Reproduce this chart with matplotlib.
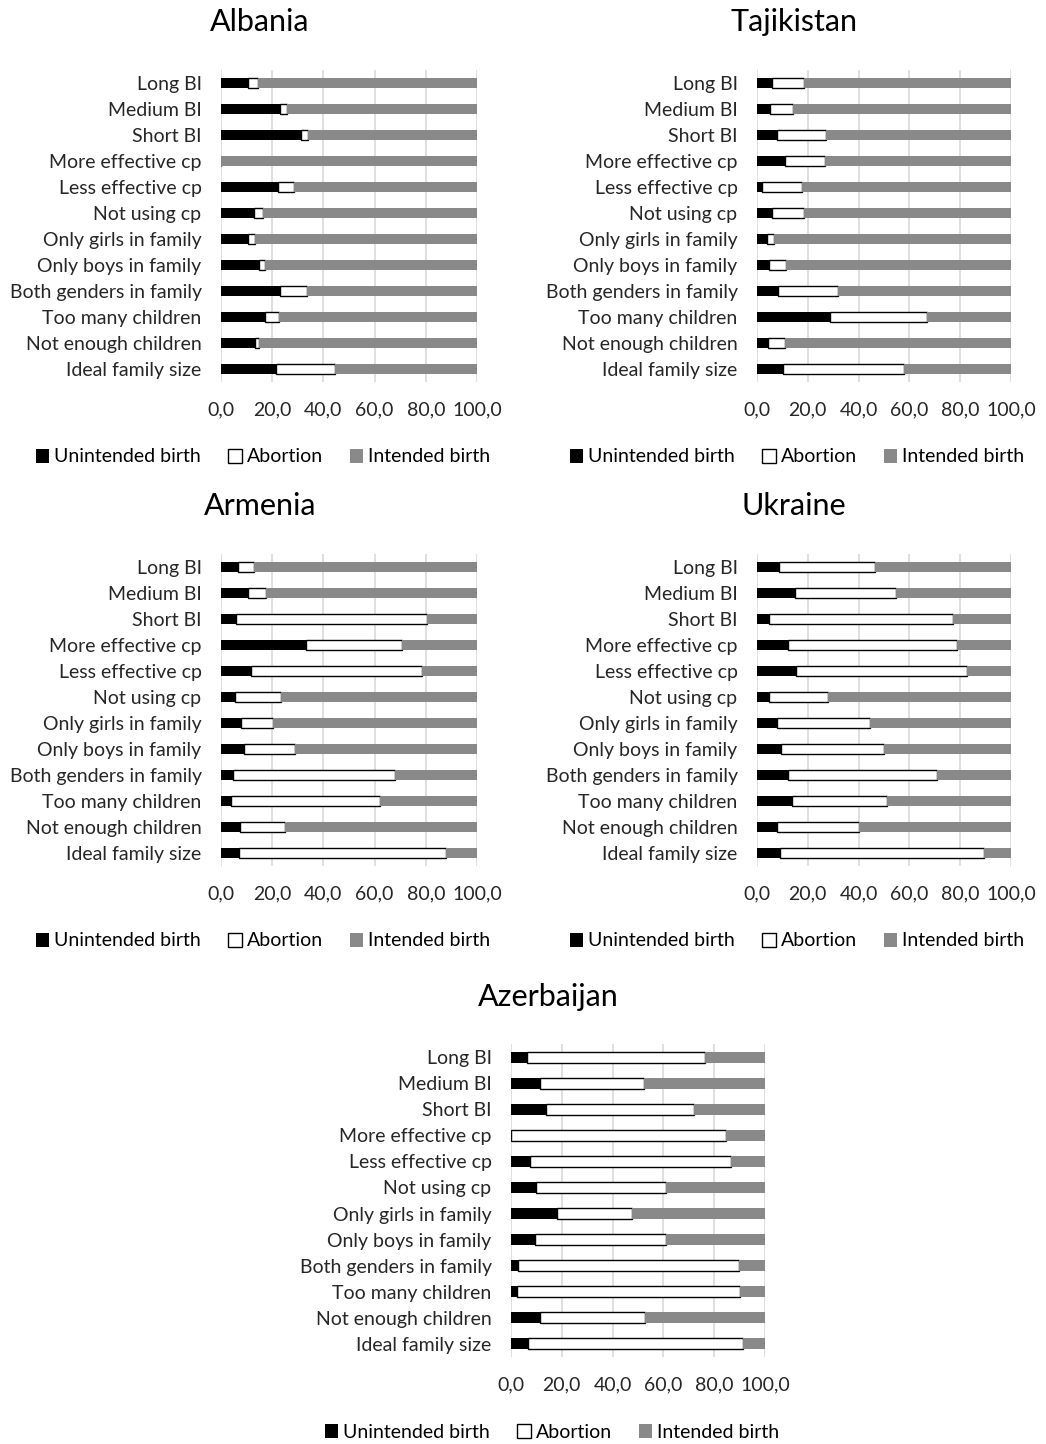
import matplotlib.pyplot as plt
import numpy as np

plt.rcParams['font.family'] = ['Lato', 'DejaVu Sans']

categories = ['Long BI', 'Medium BI', 'Short BI', 'More effective cp', 'Less effective cp',
              'Not using cp', 'Only girls in family', 'Only boys in family',
              'Both genders in family', 'Too many children', 'Not enough children',
              'Ideal family size']

# share of each outcome (%), same order as categories
albania_unintended = [10.5, 22.9, 31.1, 0.0, 22.2, 12.8, 10.5, 14.8, 22.9, 17.3, 13.1, 21.6]
albania_abortion = [4.1, 3.0, 3.0, 0.0, 6.2, 3.7, 2.8, 2.2, 10.7, 5.2, 1.9, 22.8]

tajikistan_unintended = [6.1, 5.2, 7.7, 11.1, 2.0, 6.0, 3.8, 4.8, 8.4, 28.9, 4.3, 10.2]
tajikistan_abortion = [12.6, 8.9, 19.4, 15.5, 15.9, 12.7, 2.9, 6.8, 23.4, 38.1, 6.7, 47.5]

armenia_unintended = [6.7, 10.5, 6.0, 33.2, 11.8, 5.4, 7.8, 8.8, 4.6, 4.1, 7.5, 7.1]
armenia_abortion = [6.2, 7.0, 74.4, 37.4, 66.9, 18.1, 12.7, 20.1, 63.5, 57.9, 17.6, 80.6]

ukraine_unintended = [8.8, 15.1, 4.8, 12.3, 15.3, 4.7, 7.7, 9.4, 12.2, 13.9, 7.9, 9.0]
ukraine_abortion = [37.7, 39.5, 72.2, 66.3, 67.2, 23.2, 36.8, 40.7, 58.8, 37.4, 32.3, 80.5]

azerbaijan_unintended = [6.4, 11.4, 13.6, 0.0, 7.3, 9.7, 18.0, 9.3, 2.9, 2.4, 11.6, 6.5]
azerbaijan_abortion = [69.9, 40.8, 58.3, 84.8, 79.2, 51.5, 29.7, 51.9, 86.9, 87.7, 41.1, 84.9]

xticks = [0, 20, 40, 60, 80, 100]
xtick_labels = ['0,0', '20,0', '40,0', '60,0', '80,0', '100,0']
legend_labels = ['Unintended birth', 'Abortion', 'Intended birth']

W, H = 1046, 1444
GREY = '#898989'
FS = 14

fig = plt.figure(figsize=(W / 100, H / 100), dpi=100)


def panel(name, unintended, abortion, left, right, top, bottom, title_x, title_y, leg_x, leg_y):
    ax = fig.add_axes([left / W, 1 - bottom / H, (right - left) / W, (bottom - top) / H])
    u = np.array(unintended)
    a = np.array(abortion)
    i = 100 - u - a
    y = np.arange(len(categories))
    h = 0.42
    b1 = ax.barh(y, u, height=h, color='black', zorder=3)
    b2 = ax.barh(y, a, left=u, height=h, color='white', edgecolor='black', linewidth=1.0, zorder=3)
    b3 = ax.barh(y, i, left=u + a, height=h, color=GREY, zorder=3)
    ax.set_ylim(len(categories) - 0.5, -0.5)
    ax.set_xlim(0, 100)
    ax.set_yticks(y)
    ax.set_yticklabels(categories, fontsize=FS, color='#262626')
    ax.set_xticks(xticks)
    ax.set_xticklabels(xtick_labels, fontsize=FS, color='#262626')
    ax.tick_params(axis='y', length=0, pad=14)
    ax.tick_params(axis='x', length=0, pad=14)
    ax.grid(axis='x', color='#d9d9d9', linewidth=1.2, zorder=0)
    for s in ax.spines.values():
        s.set_visible(False)
    fig.text(title_x / W, 1 - title_y / H, name, fontsize=22, ha='center', va='center', color='black')
    fig.legend([b1, b2, b3], legend_labels, loc='center', bbox_to_anchor=(leg_x / W, 1 - leg_y / H),
               ncol=3, frameon=False, fontsize=FS, handlelength=0.7, handleheight=0.7,
               handletextpad=0.25, columnspacing=1.4)
    return ax


panel('Albania', albania_unintended, albania_abortion, 221, 477, 70, 382, 260, 22, 263, 457)
panel('Tajikistan', tajikistan_unintended, tajikistan_abortion, 757, 1011, 70, 382, 794, 22, 797, 457)
panel('Armenia', armenia_unintended, armenia_abortion, 221, 477, 554, 866, 260, 506, 263, 941)
panel('Ukraine', ukraine_unintended, ukraine_abortion, 757, 1011, 554, 866, 794, 506, 797, 941)
panel('Azerbaijan', azerbaijan_unintended, azerbaijan_abortion, 511, 765, 1044, 1357, 548, 997, 552, 1432)

fig.savefig('out.png', dpi=100, facecolor='white')
